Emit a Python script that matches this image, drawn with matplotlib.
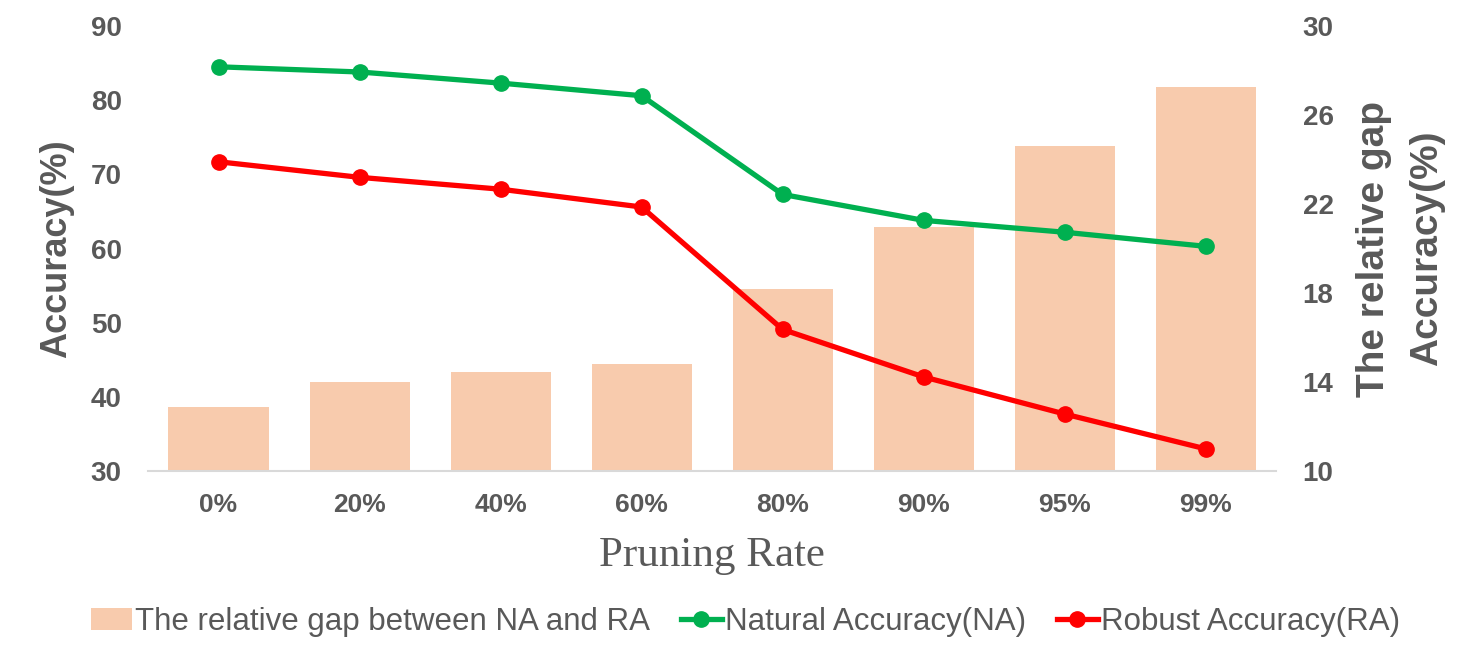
import matplotlib
matplotlib.use("Agg")
import matplotlib.pyplot as plt
import numpy as np
from matplotlib import font_manager

categories = ["0%", "20%", "40%", "60%", "80%", "90%", "95%", "99%"]
gap = [12.9, 14.0, 14.45, 14.8, 18.2, 20.95, 24.6, 27.25]
natural_acc = [84.5, 83.8, 82.3, 80.6, 67.3, 63.8, 62.2, 60.3]
robust_acc = [71.7, 69.6, 68.0, 65.6, 49.1, 42.7, 37.7, 33.0]

GRAY = "#595959"
names = {f.name for f in font_manager.fontManager.ttflist}
legend_font = "Liberation Sans Narrow" if "Liberation Sans Narrow" in names else "Liberation Sans"

fig = plt.figure(figsize=(14.82, 6.58), dpi=100)
ax = fig.add_axes([0.0999, 0.284, 0.7612, 0.6765])
ax2 = ax.twinx()
ax.set_zorder(2)
ax.patch.set_visible(False)
ax2.set_zorder(1)

x = np.arange(len(categories))
bars = ax2.bar(x, gap, width=0.71, color="#F8CBAD", label="The relative gap between NA and RA")
ln1, = ax.plot(x, natural_acc, color="#00B050", lw=3.8, marker="o", ms=11,
               label="Natural Accuracy(NA)")
ln2, = ax.plot(x, robust_acc, color="#FF0000", lw=3.8, marker="o", ms=11,
               label="Robust Accuracy(RA)")

ax.set_xlim(-0.5, len(categories) - 0.5)
ax.set_ylim(30, 90)
ax.set_yticks(np.arange(30, 91, 10))
ax2.set_ylim(10, 30)
ax2.set_yticks([10, 14, 18, 22, 26, 30])

for a in (ax, ax2):
    for s in a.spines.values():
        s.set_visible(False)
    a.tick_params(length=0)
ax.spines["bottom"].set_visible(True)
ax.spines["bottom"].set_color("#D9D9D9")
ax.spines["bottom"].set_linewidth(1.5)

ax.set_xticks(x)
ax.set_xticklabels(categories)
ax.tick_params(axis="x", pad=16, labelsize=19, labelcolor=GRAY)
ax.tick_params(axis="y", pad=19, labelsize=20, labelcolor=GRAY)
ax2.tick_params(axis="y", pad=19, labelsize=20, labelcolor=GRAY)
for lab in ax.get_xticklabels() + ax.get_yticklabels() + ax2.get_yticklabels():
    lab.set_fontfamily("Liberation Sans")
    lab.set_fontweight("bold")

ax.set_ylabel("Accuracy(%)", fontsize=26, fontweight="bold", color=GRAY,
              family="Liberation Sans", labelpad=12)
ax2.set_ylabel("The relative gap\nAccuracy(%)", fontsize=28, fontweight="bold",
               color=GRAY, family="Liberation Sans", labelpad=16, linespacing=1.6)
ax.set_xlabel("Pruning Rate", fontsize=31, color=GRAY, family="Liberation Serif", labelpad=14)

leg = fig.legend(handles=[bars, ln1, ln2], loc="center", bbox_to_anchor=(0.503, 0.055),
                 ncol=3, frameon=False, handlelength=1.3, handletextpad=0.1,
                 columnspacing=1.0, prop={"family": legend_font, "size": 22.5})
for t in leg.get_texts():
    t.set_color(GRAY)

fig.savefig("out.png", dpi=100)
